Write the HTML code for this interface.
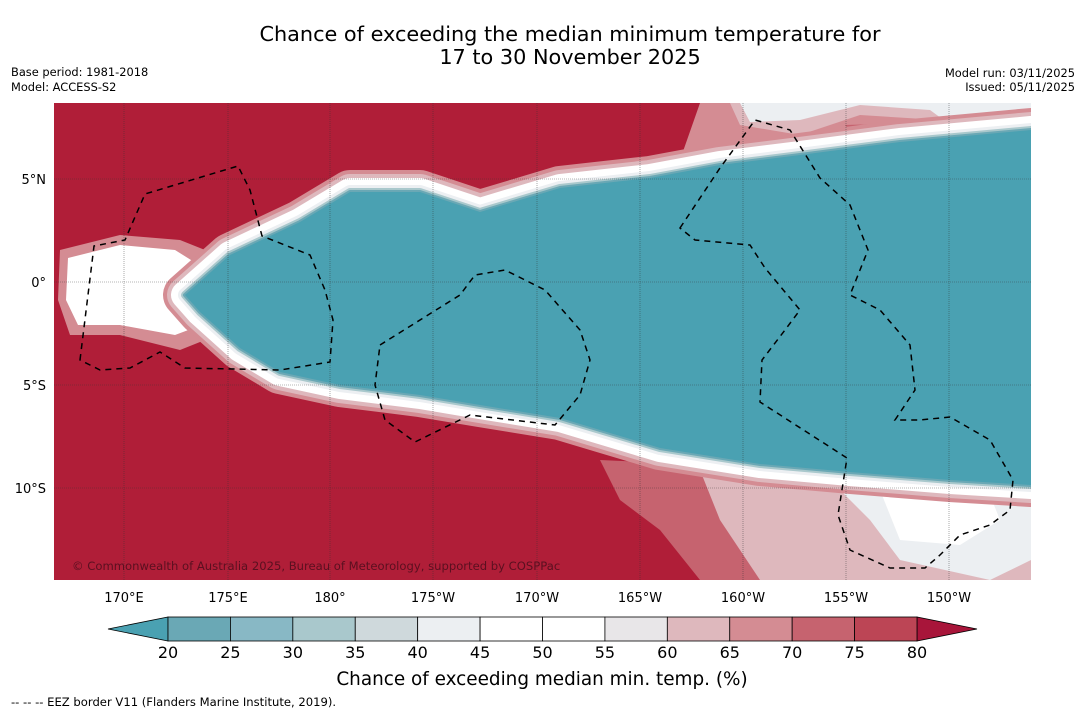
<!DOCTYPE html>
<html><head><meta charset="utf-8"><style>
body{margin:0;background:#fff;width:1085px;height:713px;overflow:hidden;font-family:"Liberation Sans",sans-serif}
svg text{font-family:"DejaVu Sans","Liberation Sans",sans-serif}
</style></head><body>
<svg width="1085" height="713">
<text x="570" y="41" font-size="20.8" text-anchor="middle">Chance of exceeding the median minimum temperature for</text>
<text x="570" y="64" font-size="20.8" text-anchor="middle">17 to 30 November 2025</text>
<text x="11" y="76" font-size="11.4">Base period: 1981-2018</text>
<text x="11" y="91" font-size="11.4">Model: ACCESS-S2</text>
<text x="1075" y="77" font-size="11.4" text-anchor="end">Model run: 03/11/2025</text>
<text x="1075" y="91" font-size="11.4" text-anchor="end">Issued: 05/11/2025</text>
<defs>
<clipPath id="mc"><rect x="54" y="103" width="977" height="477"/></clipPath>
<path id="tb" d="M185,295 L230,255 L300,222 L350,192 L420,192 L480,212 L560,188 L650,178 L720,165 L800,155 L900,142 L1031,130 L1031,485 L950,480 L850,472 L760,464 L660,448 L600,430 L560,418 L480,405 L420,395 L340,385 L280,372 L240,348 L200,312 Z"/>
</defs>
<g clip-path="url(#mc)">
<rect x="54" y="103" width="977" height="477" fill="#b01e38"/>
<path d="M700,103 L1031,103 L1031,140 L900,150 L800,165 L700,175 L680,160 Z" fill="#d48c93"/>
<path d="M730,103 L1031,103 L1031,135 L960,140 L940,120 L860,115 L800,135 L740,125 Z" fill="#deb8bd"/>
<path d="M740,103 L1031,103 L1031,128 L960,132 L930,110 L860,105 L800,120 L750,122 Z" fill="#eceff2"/>
<path d="M845,125 L940,122 L945,140 L860,145 Z" fill="#c6636f"/>
<path d="M600,460 L1031,480 L1031,580 L700,580 L660,530 L620,500 Z" fill="#c6636f"/>
<path d="M700,470 L1031,485 L1031,580 L760,580 L740,550 L720,520 Z" fill="#deb8bd"/>
<path d="M830,480 L1031,490 L1031,560 L990,580 L900,560 L870,520 Z" fill="#eceff2"/>
<path d="M880,490 L990,495 L1000,520 L960,545 L900,540 Z" fill="#fff"/>
<path d="M60,250 L120,235 L180,240 L230,260 L230,330 L180,350 L120,335 L70,335 L58,300 Z" fill="#d48c93"/>
<path d="M68,258 L120,245 L175,250 L215,275 L215,320 L175,335 L120,325 L78,325 L66,300 Z" fill="#fff"/>
<path d="M630,175 L665,170 L670,200 L645,205 Z" fill="#fff"/>
<g fill="none" stroke-linejoin="round">
<use href="#tb" stroke="#d48c93" stroke-width="44"/>
<use href="#tb" stroke="#deb8bd" stroke-width="36"/>
<use href="#tb" stroke="#ffffff" stroke-width="28"/>
<use href="#tb" stroke="#eceff2" stroke-width="14"/>
<use href="#tb" stroke="#a9c8cc" stroke-width="8"/>
<use href="#tb" stroke="#6aa8b5" stroke-width="4"/>
</g>
<use href="#tb" fill="#4aa1b2"/>
<g stroke="#333" stroke-width="0.6" stroke-dasharray="1,1" opacity="0.7">
<line x1="124" y1="103" x2="124" y2="580"/><line x1="228" y1="103" x2="228" y2="580"/><line x1="330" y1="103" x2="330" y2="580"/><line x1="433" y1="103" x2="433" y2="580"/><line x1="537" y1="103" x2="537" y2="580"/><line x1="640" y1="103" x2="640" y2="580"/><line x1="743" y1="103" x2="743" y2="580"/><line x1="846" y1="103" x2="846" y2="580"/><line x1="949" y1="103" x2="949" y2="580"/>
<line x1="54" y1="179" x2="1031" y2="179"/><line x1="54" y1="282" x2="1031" y2="282"/><line x1="54" y1="385" x2="1031" y2="385"/><line x1="54" y1="488" x2="1031" y2="488"/>
</g>
<g fill="none" stroke="#000" stroke-width="1.5" stroke-dasharray="6,5">
<path d="M80,360 L94,246 L125,240 L145,194 L238,166 L250,190 L262,236 L310,255 L325,290 L333,320 L330,362 L280,370 L185,368 L160,352 L130,368 L100,370 Z"/>
<path d="M380,345 L460,295 L475,275 L505,270 L545,290 L580,330 L590,360 L580,395 L555,425 L470,415 L415,442 L385,420 L375,385 Z"/>
<path d="M680,228 L720,168 L755,120 L790,130 L820,178 L850,205 L868,250 L850,295 L880,310 L910,345 L915,390 L895,420 L920,420 L950,417 L990,440 L1013,480 L1010,510 L990,525 L960,535 L940,555 L925,568 L890,568 L850,550 L838,515 L847,458 L760,402 L762,360 L785,330 L800,310 L765,268 L750,245 L695,240 Z"/>
</g>
<text x="72" y="570" font-size="11.6" fill="#5a1020">© Commonwealth of Australia 2025, Bureau of Meteorology, supported by COSPPac</text>
</g>
<g font-size="13" fill="#000">
<text x="46" y="184" text-anchor="end">5°N</text><text x="46" y="287" text-anchor="end">0°</text><text x="46" y="390" text-anchor="end">5°S</text><text x="46" y="493" text-anchor="end">10°S</text>
<g text-anchor="middle"><text x="124" y="602">170°E</text><text x="228" y="602">175°E</text><text x="330" y="602">180°</text><text x="433" y="602">175°W</text><text x="537" y="602">170°W</text><text x="640" y="602">165°W</text><text x="743" y="602">160°W</text><text x="846" y="602">155°W</text><text x="949" y="602">150°W</text></g>
</g>
<g id="cbar"></g>
<text x="542" y="685" font-size="18.4" text-anchor="middle">Chance of exceeding median min. temp. (%)</text>
<text x="11" y="706" font-size="11.6">--  --  -- EEZ border V11 (Flanders Marine Institute, 2019).</text>
</svg>
<script>
const ticks=[20,25,30,35,40,45,50,55,60,65,70,75,80];
const binColors=["#6aa8b5","#88b8c5","#a9c8cc","#cfd9dc","#eceff2","#ffffff","#ffffff","#e8e6e8","#deb8bd","#d48c93","#c6636f","#bc4555"];
const ns="http://www.w3.org/2000/svg",g=document.getElementById('cbar');
const x0=168,x1=917,y0=617,h=24;
const sx=v=>x0+(v-20)/60*(x1-x0);
function mk(t,a){const e=document.createElementNS(ns,t);for(const k in a)e.setAttribute(k,a[k]);g.appendChild(e);return e;}
const l=mk('polygon',{points:`108,${y0+h/2} ${x0},${y0} ${x0},${y0+h}`,fill:'#4aa1b2',stroke:'#000','stroke-width':0.8});


const r=mk('polygon',{points:`977,${y0+h/2} ${x1},${y0} ${x1},${y0+h}`,fill:'#a8153a',stroke:'#000','stroke-width':0.8});


binColors.forEach((c,i)=>{const e=mk('rect',{x:sx(ticks[i]),y:y0,width:sx(ticks[i+1])-sx(ticks[i]),height:h,fill:c,stroke:'#000','stroke-width':0.8});

});
ticks.forEach(t=>{const e=mk('text',{x:sx(t),y:658,'font-size':16,'text-anchor':'middle'});e.textContent=t;

});
</script>
</body></html>
